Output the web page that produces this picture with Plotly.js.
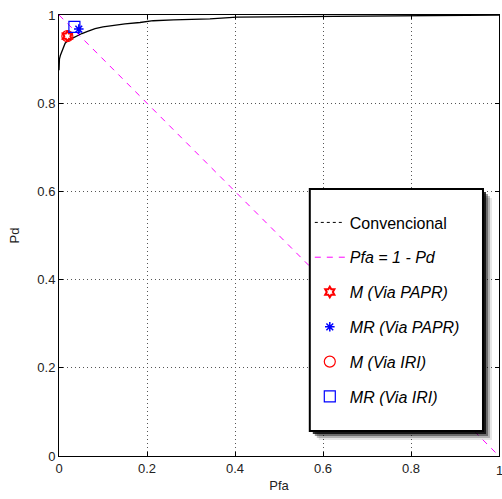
<!DOCTYPE html>
<html>
<head>
<meta charset="utf-8">
<script src="https://cdn.plot.ly/plotly-3.0.1.min.js"></script>
<style>html,body{margin:0;padding:0;background:#fff;}#chart{width:502px;height:499px;}</style>
</head>
<body>
<div id="chart"></div>
<script>
// ROC curve "Convencional"
var pfa = [0, 0, 0.001, 0.003, 0.006, 0.01, 0.014, 0.02, 0.029, 0.04, 0.052, 0.065, 0.082, 0.1, 0.123, 0.15, 0.184, 0.214, 0.26, 0.3, 0.343, 0.404, 0.5, 0.6, 0.7, 0.8, 0.9, 1.0];
var pd  = [0.875, 0.89, 0.9, 0.908, 0.915, 0.926, 0.936, 0.942, 0.947, 0.953, 0.958, 0.963, 0.969, 0.973, 0.977, 0.98, 0.983, 0.987, 0.989, 0.990, 0.991, 0.995, 0.996, 0.997, 0.998, 0.999, 0.9995, 1.0];
// Pfa = 1 - Pd reference line
var diagX = [0, 1];
var diagY = [1, 0];
// Operating points
var mPaprX = [0.019], mPaprY = [0.952];
var mrPaprX = [0.045], mrPaprY = [0.968];
var mIriX = [0.019], mIriY = [0.952];
var mrIriX = [0.035], mrIriY = [0.973];
var tickVals = [0, 0.2, 0.4, 0.6, 0.8, 1];
var tickText = ['0', '0.2', '0.4', '0.6', '0.8', '1'];
var legendNames = ['Convencional', '<i>Pfa = 1 - Pd</i>', '<i>M (Via PAPR)</i>', '<i>MR (Via PAPR)</i>', '<i>M (Via IRI)</i>', '<i>MR (Via IRI)</i>'];

var FONT = 'Liberation Sans, Arial, sans-serif';

var traces = [
  {x: pfa, y: pd, mode: 'lines', line: {color: '#000', width: 1.3}, showlegend: false, hoverinfo: 'skip'},
  {x: [null], y: [null], mode: 'lines', name: legendNames[0], line: {color: '#000', width: 1, dash: '3px,3px'}, legendgroup: 'a'},
  {x: diagX, y: diagY, mode: 'lines', name: legendNames[1], line: {color: '#ff00ff', width: 1, dash: '6px,6px'}, legendgroup: 'b'},
  {x: mPaprX, y: mPaprY, mode: 'markers', name: legendNames[2], marker: {symbol: 'hexagram-open', size: 8, color: '#ff0000', line: {width: 2, color: '#ff0000'}}, legendgroup: 'c'},
  {x: mrPaprX, y: mrPaprY, mode: 'markers', name: legendNames[3], marker: {symbol: 'asterisk-open', size: 8, color: '#0000ff', line: {width: 1.5, color: '#0000ff'}}, legendgroup: 'd'},
  {x: mIriX, y: mIriY, mode: 'markers', name: legendNames[4], marker: {symbol: 'circle-open', size: 11, color: '#ff0000', line: {width: 1.2, color: '#ff0000'}}, legendgroup: 'e'},
  {x: mrIriX, y: mrIriY, mode: 'markers', name: legendNames[5], marker: {symbol: 'square-open', size: 11, color: '#0000ff', line: {width: 1.2, color: '#0000ff'}}, legendgroup: 'f'}
];

var px = 1/440, py = 1/441;
var bx0 = 0.570, bx1 = 0.9636, by0 = 0.0567, by1 = 0.6054;
var shapes = [];
[[9,0.1],[7,0.22],[5,0.4],[3,0.8]].forEach(function(s){
  shapes.push({type:'rect', xref:'paper', yref:'paper', x0: bx0 + s[0]*px, x1: bx1 + s[0]*px, y0: by0 - s[0]*py, y1: by1 - s[0]*py,
    fillcolor: 'rgba(0,0,0,' + s[1] + ')', line: {width: 0}, layer: 'above'});
});
shapes.push({type:'rect', xref:'paper', yref:'paper', x0: bx0, x1: bx1, y0: by0, y1: by1,
  fillcolor: '#fff', line: {color: '#000', width: 2}, layer: 'above'});

var axisCommon = {
  range: [0, 1], tickvals: tickVals, ticktext: tickText, showgrid: true, gridcolor: '#555', griddash: '1px,3px', gridwidth: 1,
  zeroline: false, showline: true, linecolor: '#000', linewidth: 1, mirror: 'ticks', ticks: 'inside', ticklen: 4, tickcolor: '#000',
  tickfont: {family: FONT, size: 13, color: '#222'}
};

var layout = {
  width: 502, height: 499,
  margin: {l: 59, r: 3, t: 15, b: 43},
  paper_bgcolor: '#fff', plot_bgcolor: '#fff',
  showlegend: true,
  xaxis: Object.assign({}, axisCommon, {title: {text: 'Pfa', font: {family: FONT, size: 13, color: '#222'}, standoff: 6}}),
  yaxis: Object.assign({}, axisCommon, {title: {text: 'Pd', font: {family: FONT, size: 13, color: '#222'}, standoff: 14}}),
  legend: {x: 0.570, y: 0.568, xanchor: 'left', yanchor: 'top', bgcolor: 'rgba(0,0,0,0)', borderwidth: 0,
    traceorder: 'grouped', tracegroupgap: 11,
    font: {family: FONT, size: 16, color: '#000'}},
  annotations: [{x: 1, y: 0, xref: 'x', yref: 'paper', yshift: -5, yanchor: 'top', xanchor: 'center', text: tickText[5], showarrow: false,
    font: {family: FONT, size: 13, color: '#222'}}],
  shapes: shapes
};

Plotly.newPlot('chart', traces, layout, {displayModeBar: false, staticPlot: true});
</script>
</body>
</html>
